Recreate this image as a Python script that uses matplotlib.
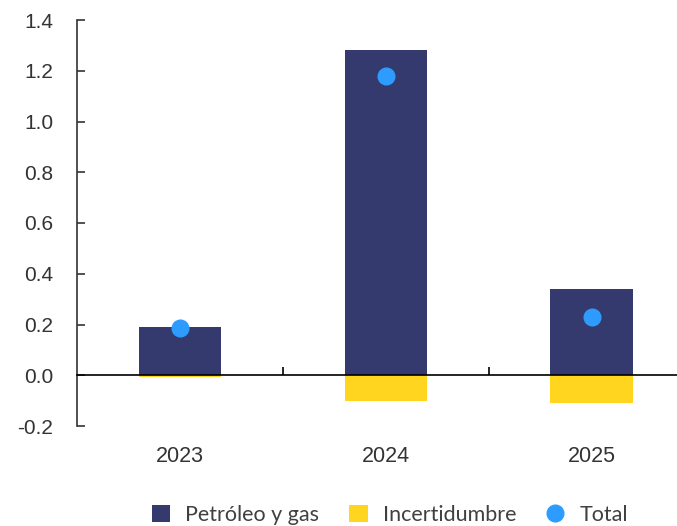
import matplotlib.pyplot as plt

# Contribution by year
years = ['2023', '2024', '2025']
petroleo_gas = [0.19, 1.28, 0.34]
incertidumbre = [-0.005, -0.10, -0.11]
total = [0.185, 1.18, 0.23]

navy = '#353a6e'
yellow = '#ffd520'
blue = '#2e9bff'

plt.rcParams['font.family'] = ['Liberation Sans', 'DejaVu Sans']

fig = plt.figure(figsize=(6.77, 5.26), dpi=100)
ax = fig.add_axes([77 / 677, 100 / 526, 600 / 677, 406 / 526])

x = list(range(len(years)))
b1 = ax.bar(x, petroleo_gas, width=0.4, color=navy, label='Petróleo y gas', zorder=2)
b2 = ax.bar(x, incertidumbre, width=0.4, color=yellow, label='Incertidumbre', zorder=2)
dots, = ax.plot(x, total, 'o', color=blue, markersize=12, label='Total', zorder=4)

ax.set_ylim(-0.2, 1.4)
ax.set_xlim(-0.5, (677 - 179.5) / 206)
ax.set_yticks([-0.2, 0.0, 0.2, 0.4, 0.6, 0.8, 1.0, 1.2, 1.4])
ax.set_yticklabels([f'{v:.1f}' for v in ax.get_yticks()])

# x axis sits on zero, with separators between years
ax.spines['bottom'].set_position(('data', 0))
ax.spines['bottom'].set_zorder(3)
ax.spines['bottom'].set_linewidth(1.2)
ax.spines['left'].set_linewidth(1.2)
ax.spines['left'].set_color('#333333')
ax.spines['top'].set_visible(False)
ax.spines['right'].set_visible(False)

ax.set_xticks([0.5, 1.5])
ax.set_xticklabels([])
ax.tick_params(axis='x', which='major', direction='in', length=6, width=1.2)
ax.set_xticks(x, minor=True)
ax.set_xticklabels(years, minor=True)
ax.tick_params(axis='x', which='minor', length=0, pad=51, labelsize=15.5, labelcolor='#333333')
ax.tick_params(axis='y', direction='in', length=6, width=1.2, labelsize=15,
               labelcolor='#333333', pad=17, color='#333333')

fig.legend(handles=[b1, b2, dots], loc='center', bbox_to_anchor=(0.576, 11 / 526), ncol=3,
           frameon=False, handlelength=0.85, handleheight=0.85, handletextpad=0.7,
           columnspacing=1.4, prop={'family': 'Lato', 'size': 15.5}, labelcolor='#404040')

fig.savefig('out.png', dpi=100)
